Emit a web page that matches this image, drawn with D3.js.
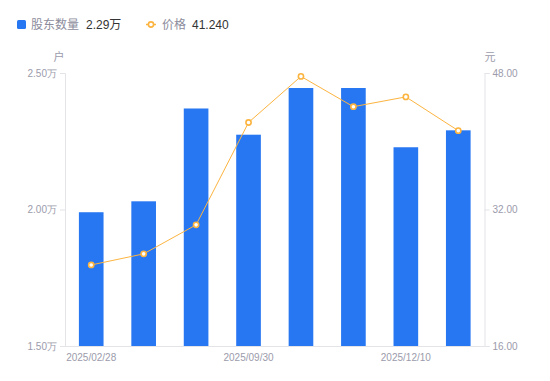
<!DOCTYPE html>
<html><head><meta charset="utf-8">
<script src="https://cdn.jsdelivr.net/npm/d3@7/dist/d3.min.js"></script>
<style>body{margin:0;background:#fff}svg{display:block;font-family:"Liberation Sans","Noto Sans CJK SC",sans-serif}</style>
</head><body><svg id="c" width="550" height="381"></svg>
<script>
const categories = ["2025/02/28","2025/03/31","2025/06/30","2025/09/30","2025/10/31","2025/11/20","2025/12/10","2025/12/31"];
const holders = [19900, 20300, 23700, 22740, 24450, 24450, 22280, 22900];
const prices = [25.5, 26.8, 30.2, 42.2, 47.6, 44.05, 45.2, 41.24];
const leftTicks = [15000, 20000, 25000];
const rightTicks = [16, 32, 48];
const shownLabels = ["2025/02/28","2025/09/30","2025/12/10"];

const svg = d3.select("#c");
const L = 65, R = 484.5, T = 73, B = 346;
const x = d3.scaleBand().domain(categories).range([L, R]).paddingInner(0.53).paddingOuter(0.265);
const yL = d3.scaleLinear().domain([15000, 25000]).range([B, T]);
const yR = d3.scaleLinear().domain([16, 48]).range([B, T]);
const axisCol = "#e3e3e8", tickTxt = "#9b9bab";

// axes
const gL = svg.append("g").attr("transform", `translate(${L},0)`)
  .call(d3.axisLeft(yL).tickValues(leftTicks).tickSize(5).tickPadding(3).tickFormat(d => (d/10000).toFixed(2) + "万"));
const gR = svg.append("g").attr("transform", `translate(${R},0)`)
  .call(d3.axisRight(yR).tickValues(rightTicks).tickSize(5).tickPadding(3).tickFormat(d => d.toFixed(2)));
const gB = svg.append("g").attr("transform", `translate(0,${B})`)
  .call(d3.axisBottom(x).tickValues(shownLabels).tickSize(0).tickPadding(6));
[gL, gR, gB].forEach(g => {
  g.selectAll("path").attr("stroke", axisCol);
  g.selectAll("line").attr("stroke", axisCol);
  g.selectAll("text").attr("fill", tickTxt).style("font-size", "10px");
});
gB.selectAll(".tick text").attr("dy", "0.9em");
gB.select("path").attr("d", `M${L},0.5H${R}`);

svg.append("text").attr("x", 59).attr("y", 61).attr("text-anchor", "middle").attr("fill", tickTxt).style("font-size", "11px").text("户");
svg.append("text").attr("x", 490).attr("y", 61).attr("text-anchor", "middle").attr("fill", tickTxt).style("font-size", "11px").text("元");

// bars
svg.append("g").selectAll("rect").data(categories).join("rect")
  .attr("x", d => x(d)).attr("width", x.bandwidth())
  .attr("y", (d, i) => yL(holders[i])).attr("height", (d, i) => B - yL(holders[i]))
  .attr("fill", "#2777f2");

// line
const line = d3.line().x((d, i) => x(categories[i]) + x.bandwidth()/2).y(d => yR(d));
svg.append("path").datum(prices).attr("d", line).attr("fill", "none").attr("stroke", "#fcb440").attr("stroke-width", 1);
svg.append("g").selectAll("circle").data(prices).join("circle")
  .attr("cx", (d, i) => x(categories[i]) + x.bandwidth()/2).attr("cy", d => yR(d)).attr("r", 2.6)
  .attr("fill", "#fff").attr("stroke", "#fcb440").attr("stroke-width", 1.6);

// legend
const lg = svg.append("g").style("font-size", "12px");
lg.append("rect").attr("x", 17).attr("y", 20).attr("width", 9).attr("height", 9).attr("rx", 1.5).attr("fill", "#2777f2");
lg.append("text").attr("x", 31).attr("y", 29).attr("fill", "#8c8c9c").text("股东数量");
lg.append("text").attr("x", 86).attr("y", 29).attr("fill", "#333").text((holders[holders.length-1]/10000).toFixed(2) + "万");
lg.append("line").attr("x1", 146).attr("x2", 156).attr("y1", 24.5).attr("y2", 24.5).attr("stroke", "#fcb440").attr("stroke-width", 1.5);
lg.append("circle").attr("cx", 151).attr("cy", 24.5).attr("r", 2.6).attr("fill", "#fff").attr("stroke", "#fcb440").attr("stroke-width", 1.6);
lg.append("text").attr("x", 162).attr("y", 29).attr("fill", "#8c8c9c").text("价格");
lg.append("text").attr("x", 192).attr("y", 29).attr("fill", "#333").text(prices[prices.length-1].toFixed(3));
</script></body></html>
